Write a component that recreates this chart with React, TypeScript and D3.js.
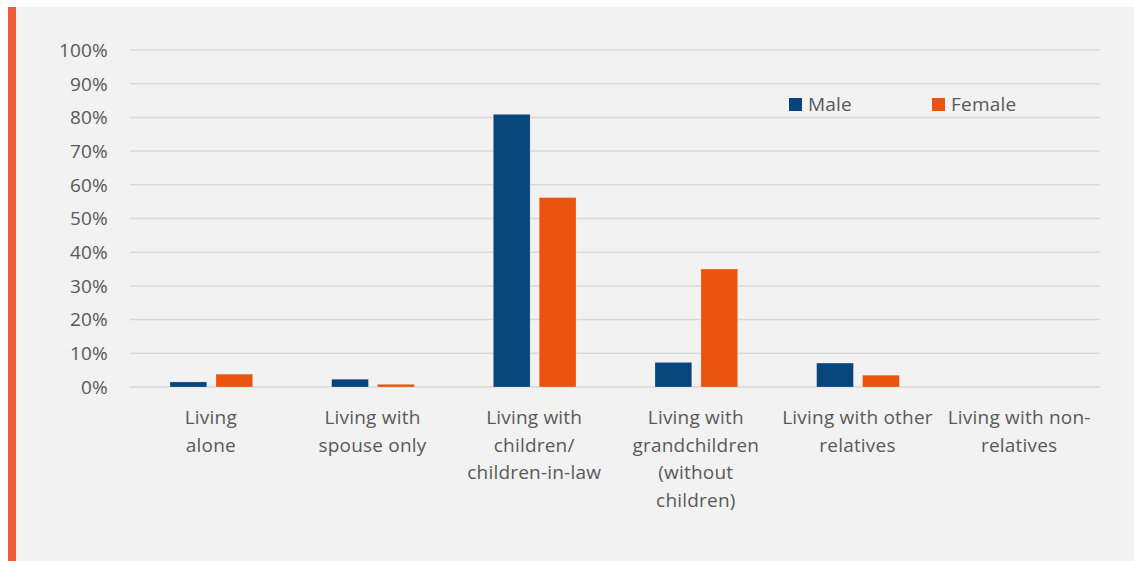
import React from "react";
import * as d3 from "d3";

const categories: string[][] = [
  ["Living", "alone"],
  ["Living with", "spouse only"],
  ["Living with", "children/", "children-in-law"],
  ["Living with", "grandchildren", "(without", "children)"],
  ["Living with other", "relatives"],
  ["Living with non-", "relatives"],
];
const maleValues = [1.5, 2.3, 80.9, 7.3, 7.1, 0];
const femaleValues = [3.8, 0.8, 56.2, 35.0, 3.5, 0];
const yTicks = [0, 10, 20, 30, 40, 50, 60, 70, 80, 90, 100];
const seriesNames = ["Male", "Female"];
const seriesColors = ["#08457c", "#ea540f"];

const W = 1134;
const H = 561;
const FONT = "'Open Sans', 'Noto Sans', sans-serif";
const TEXT = "#595959";
const FS = 19;

export default function App() {
  const x0 = d3
    .scaleBand<number>()
    .domain(categories.map((_, i) => i))
    .range([130, 1100]);
  const x1 = d3
    .scaleBand<number>()
    .domain([0, 1])
    .range([40, x0.bandwidth() - 39])
    .paddingInner(0.2);
  const y = d3.scaleLinear().domain([0, 100]).range([387, 50]);
  const series = [maleValues, femaleValues];

  return (
    <svg
      width={W}
      height={H}
      style={{ position: "absolute", left: 0, top: 0, display: "block" }}
      fontFamily={FONT}
      letterSpacing={0.2}
    >
      <rect x={0} y={0} width={W} height={H} fill="#ffffff" />
      <rect x={8} y={7} width={W - 8} height={H - 7} fill="#f2f2f2" />
      <rect x={8} y={7} width={8} height={H - 7} fill="#f05a3a" />

      {yTicks.map((t) => (
        <g key={t}>
          <line x1={130} x2={1100} y1={y(t)} y2={y(t)} stroke="#d9d9d9" strokeWidth={1.5} />
          <text x={108} y={y(t)} dy="0.36em" textAnchor="end" fontSize={FS} fill={TEXT}>
            {t}%
          </text>
        </g>
      ))}

      {series.map((vals, s) =>
        vals.map((v, i) => (
          <rect
            key={`${s}-${i}`}
            x={(x0(i) ?? 0) + (x1(s) ?? 0)}
            y={y(v)}
            width={x1.bandwidth()}
            height={y(0) - y(v)}
            fill={seriesColors[s]}
            stroke="#ffffff"
            strokeOpacity={0.25}
            strokeWidth={0.8}
          />
        ))
      )}

      {categories.map((lines, i) => (
        <text
          key={i}
          x={(x0(i) ?? 0) + x0.bandwidth() / 2}
          y={424}
          textAnchor="middle"
          fontSize={FS}
          fill={TEXT}
        >
          {lines.map((l, j) => (
            <tspan key={j} x={(x0(i) ?? 0) + x0.bandwidth() / 2} dy={j === 0 ? 0 : 27.7}>
              {l}
            </tspan>
          ))}
        </text>
      ))}

      {seriesNames.map((n, s) => (
        <g key={n} transform={`translate(${789 + s * 143},98)`}>
          <rect x={0} y={0} width={13} height={13} fill={seriesColors[s]} />
          <text x={19} y={13} fontSize={FS} fill={TEXT}>
            {n}
          </text>
        </g>
      ))}
    </svg>
  );
}
